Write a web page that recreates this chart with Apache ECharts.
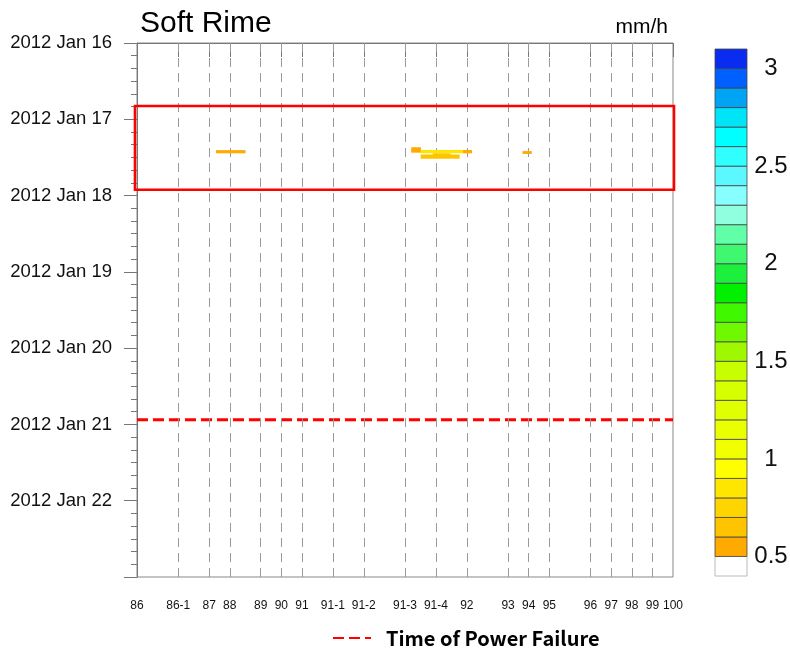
<!DOCTYPE html>
<html>
<head>
<meta charset="utf-8">
<script src="https://cdn.jsdelivr.net/npm/echarts@6/dist/echarts.min.js"></script>
<style>
  html, body { margin: 0; padding: 0; background: #fff; }
  #chart { width: 790px; height: 652px; }
</style>
</head>
<body>
<div id="chart"></div>
<script>
// stations along the line, positions in distance units
const stationLabels = ['86', '86-1', '87', '88', '89', '90', '91', '91-1', '91-2', '91-3', '91-4', '92', '93', '94', '95', '96', '97', '98', '99', '100']
const stationPos = [0, 4, 7, 9, 12, 14, 16, 19, 22, 26, 29, 32, 36, 38, 40, 44, 46, 48, 50, 52]

// hours since 2012 Jan 16 00:00
const dayLabels = ['2012 Jan 16', '2012 Jan 17', '2012 Jan 18', '2012 Jan 19', '2012 Jan 20', '2012 Jan 21', '2012 Jan 22']

// colour levels (mm/h) and fills, bottom to top
const colorLevels = [0.5, 0.6, 0.7, 0.8, 0.9, 1.0, 1.1, 1.2, 1.3, 1.4, 1.5, 1.6, 1.7, 1.8, 1.9, 2.0, 2.1, 2.2, 2.3, 2.4, 2.5, 2.6, 2.7, 2.8, 2.9, 3.0]
const colorFills = ['#ffffff', '#ffaa00', '#ffc400', '#ffd500', '#ffe600', '#ffff00', '#f2ff00', '#eaff00', '#e0ff00', '#d6ff00',
  '#c8ff00', '#a0f800', '#70f800', '#40f800', '#00f000', '#1cf03c', '#40f870', '#60ffa8', '#90ffe0', '#88ffff',
  '#5cf8ff', '#30ffff', '#00ffff', '#00e4f8', '#00a4f4', '#0060ff', '#0a2cf0']
const colorbarTicks = [0.5, 1, 1.5, 2, 2.5, 3]

// soft rime cells: [posFrom, posTo, hourFrom, hourTo, mm/h]
const rimeCells = [
  [7.66, 10.53, 33.7, 34.7, 0.56],
  [26.6, 27.55, 32.8, 34.5, 0.56],
  [27.52, 31.63, 33.66, 34.7, 0.85],
  [31.63, 32.5, 33.66, 34.7, 0.58],
  [27.52, 31.3, 35.1, 36.4, 0.6],
  [28.7, 30.4, 34.7, 35.7, 0.66],
  [37.4, 38.3, 34.0, 34.9, 0.56],
]

const powerFailureHour = 118.5
const focusBox = [[-0.2, 52.1, 19.8, 46.2]]

function colorFor(v) {
  let i = 0
  while (i < colorLevels.length && v >= colorLevels[i]) i++
  return colorFills[i]
}

const chart = echarts.init(document.getElementById('chart'))
const FONT = 'Liberation Sans, Arial, sans-serif'

chart.setOption({
  animation: false,
  title: [
    { text: 'Soft Rime', left: 135, top: 4, textStyle: { fontSize: 30, fontWeight: 'normal', color: '#000', fontFamily: FONT } },
    { text: 'mm/h', right: 117, top: 12, textStyle: { fontSize: 21, fontWeight: 'normal', color: '#000', fontFamily: FONT } },
  ],
  legend: {
    data: ['Time of Power Failure'],
    left: 332, top: 628, padding: 0,
    itemWidth: 38, itemHeight: 14,
    itemStyle: { opacity: 0 },
    textStyle: { fontSize: 20, fontWeight: 'bold', color: '#000', fontFamily: 'Noto Sans CJK KR', padding: [0, 0, 0, 10] },
  },
  grid: [
    { left: 137, right: 117, top: 43, bottom: 75, show: true, borderColor: '#888', borderWidth: 1, outerBoundsMode: 'none' },
    { left: 715, top: 49, width: 32, height: 527, outerBoundsMode: 'none' },
  ],
  xAxis: [
    {
      type: 'value', min: 0, max: 52,
      axisLine: { lineStyle: { color: '#777' } },
      axisTick: { customValues: stationPos, length: 14, lineStyle: { color: '#777' } },
      axisLabel: {
        customValues: stationPos, margin: 23, fontSize: 12, color: '#111', fontFamily: FONT,
        formatter: v => stationLabels[stationPos.indexOf(v)],
      },
      splitLine: { show: false },
    },
    { gridIndex: 1, type: 'value', min: 0, max: 1, show: false },
  ],
  yAxis: [
    {
      type: 'value', inverse: true, min: 0, max: 168, interval: 24,
      axisLine: { lineStyle: { color: '#777' } },
      axisTick: { length: 13, lineStyle: { color: '#777' } },
      minorTick: { show: true, splitNumber: 6, length: 6, lineStyle: { color: '#777' } },
      axisLabel: {
        margin: 25, fontSize: 18.5, color: '#111', fontFamily: FONT,
        formatter: v => dayLabels[v / 24] || '',
      },
      splitLine: { show: false },
    },
    {
      gridIndex: 1, type: 'value', min: 0, max: colorFills.length, position: 'right',
      axisLine: { show: false }, axisTick: { show: false }, splitLine: { show: false },
      axisLabel: {
        customValues: colorbarTicks.map(t => colorLevels.indexOf(t) + 1),
        margin: 24, align: 'center', fontSize: 24, color: '#111', fontFamily: FONT,
        formatter: v => String(colorLevels[v - 1]),
      },
    },
  ],
  series: [
    {
      name: 'Time of Power Failure',
      type: 'line',
      symbol: 'none',
      z: 4,
      data: [[0, powerFailureHour], [52, powerFailureHour]],
      lineStyle: { color: '#ff0000', width: 3, type: [11, 5] },
      markLine: {
        silent: true, symbol: 'none', label: { show: false },
        lineStyle: { color: '#9a9a9a', width: 1, type: [9, 6] },
        data: stationPos.slice(1, -1).map(x => ({ xAxis: x })),
      },
    },
    {
      name: 'rime',
      type: 'custom',
      z: 5,
      data: rimeCells,
      renderItem: (params, api) => {
        const a = api.coord([api.value(0), api.value(2)])
        const b = api.coord([api.value(1), api.value(3)])
        return {
          type: 'rect',
          shape: { x: Math.min(a[0], b[0]), y: Math.min(a[1], b[1]), width: Math.abs(b[0] - a[0]), height: Math.abs(b[1] - a[1]) },
          style: { fill: colorFor(api.value(4)) },
        }
      },
    },
    {
      name: 'box',
      type: 'custom',
      z: 6,
      clip: false,
      data: focusBox,
      renderItem: (params, api) => {
        const a = api.coord([api.value(0), api.value(2)])
        const b = api.coord([api.value(1), api.value(3)])
        return {
          type: 'rect',
          shape: { x: Math.min(a[0], b[0]), y: Math.min(a[1], b[1]), width: Math.abs(b[0] - a[0]), height: Math.abs(b[1] - a[1]) },
          style: { fill: 'none', stroke: '#ff0000', lineWidth: 2.5 },
        }
      },
    },
    {
      name: 'colorbar',
      type: 'custom',
      xAxisIndex: 1, yAxisIndex: 1,
      data: colorFills.map((c, i) => [i]),
      renderItem: (params, api) => {
        const i = api.value(0)
        const a = api.coord([0, i])
        const b = api.coord([1, i + 1])
        return {
          type: 'rect',
          shape: { x: a[0], y: b[1], width: b[0] - a[0], height: a[1] - b[1] },
          style: { fill: colorFills[i], stroke: i === 0 ? '#aaa' : '#444', lineWidth: 0.8 },
        }
      },
    },
  ],
})
</script>
</body>
</html>
